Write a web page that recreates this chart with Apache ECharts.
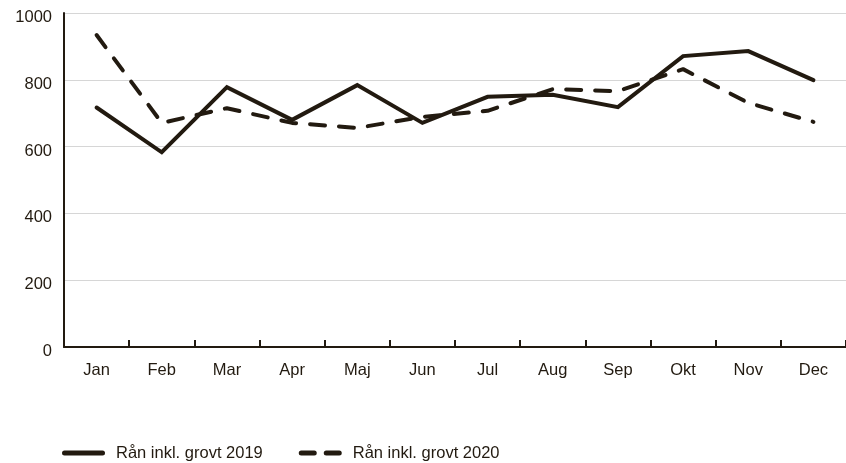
<!DOCTYPE html>
<html>
<head>
<meta charset="utf-8">
<script src="https://cdn.jsdelivr.net/npm/echarts@6/dist/echarts.min.js"></script>
<style>
    html, body { margin: 0; padding: 0; background: #fff; }
    #chart { width: 846px; height: 463px; }
</style>
</head>
<body>
<div id="chart"></div>
<script>
const months = ['Jan', 'Feb', 'Mar', 'Apr', 'Maj', 'Jun', 'Jul', 'Aug', 'Sep', 'Okt', 'Nov', 'Dec'];
const robbery2019 = [717, 583, 778, 680, 784, 671, 749, 755, 718, 871, 886, 799];
const robbery2020 = [934, 671, 715, 671, 656, 689, 707, 772, 766, 832, 731, 674];
const seriesNames = ['Rån inkl. grovt 2019', 'Rån inkl. grovt 2020'];
const yTicks = { min: 0, max: 1000, interval: 200 };

const ink = '#221a10';
const font = 'Liberation Sans, Arial, Helvetica, sans-serif';

// legend keys: one solid bar, two dashes
const solidIcon = 'path://M2.5,0H40.5A2.5,2.5,0,0,1,40.5,5H2.5A2.5,2.5,0,0,1,2.5,0Z';
const dashIcon = 'path://M2.5,0H15.5A2.5,2.5,0,0,1,15.5,5H2.5A2.5,2.5,0,0,1,2.5,0Z' +
    'M27.5,0H40.5A2.5,2.5,0,0,1,40.5,5H27.5A2.5,2.5,0,0,1,27.5,0Z';

const chart = echarts.init(document.getElementById('chart'));
chart.setOption({
    animation: false,
    grid: { left: 64, right: -6, top: 13, bottom: 116 },
    legend: {
        left: 57,
        top: 439,
        itemWidth: 43,
        itemHeight: 5,
        itemGap: 36,
        itemStyle: { color: ink },
        textStyle: { fontFamily: font, fontSize: 16.5, color: ink, padding: [0, 0, 0, 6], lineHeight: 18 },
        data: [
            { name: seriesNames[0], icon: solidIcon },
            { name: seriesNames[1], icon: dashIcon }
        ]
    },
    xAxis: {
        type: 'category',
        data: months,
        boundaryGap: true,
        axisLine: { lineStyle: { color: ink, width: 2 } },
        axisTick: { show: true, inside: true, length: 7, lineStyle: { color: ink, width: 2 } },
        axisLabel: { fontFamily: font, fontSize: 16.5, color: ink, margin: 15 }
    },
    yAxis: {
        type: 'value',
        min: yTicks.min,
        max: yTicks.max,
        interval: yTicks.interval,
        axisLine: { show: true, lineStyle: { color: ink, width: 2 } },
        axisTick: { show: false },
        splitLine: { lineStyle: { color: '#d6d6d6', width: 1 } },
        axisLabel: {
            fontFamily: font, fontSize: 16.5, color: ink, margin: 12,
            verticalAlign: 'top', lineHeight: 9,
            formatter: v => String(v)
        }
    },
    series: [
        {
            name: seriesNames[0],
            type: 'line',
            data: robbery2019,
            symbol: 'none',
            lineStyle: { color: ink, width: 4, cap: 'round', join: 'miter' },
            itemStyle: { color: ink }
        },
        {
            name: seriesNames[1],
            type: 'line',
            data: robbery2020,
            symbol: 'none',
            lineStyle: { color: ink, width: 4, type: [15, 14], cap: 'round' },
            itemStyle: { color: ink }
        }
    ]
});
</script>
</body>
</html>
